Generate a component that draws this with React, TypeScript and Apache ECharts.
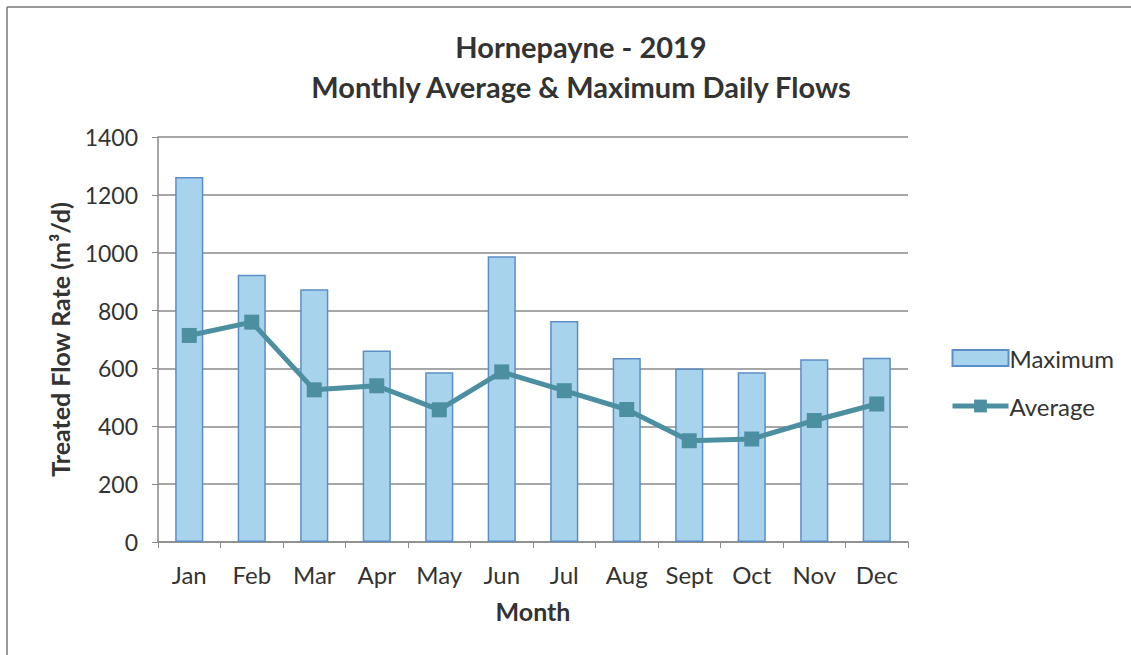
import React, { useEffect, useRef } from "react";
import * as echarts from "echarts";

const months = ["Jan", "Feb", "Mar", "Apr", "May", "Jun", "Jul", "Aug", "Sept", "Oct", "Nov", "Dec"];
const maximumFlow = [1262, 924, 874, 662, 587, 988, 764, 636, 600, 587, 632, 637];
const averageFlow = [714, 760, 526, 540, 457, 588, 523, 458, 350, 356, 420, 477];
const yTicks = { min: 0, max: 1400, interval: 200 };

const FONT = "Lato, 'Open Sans', sans-serif";

export default function App() {
  const ref = useRef<HTMLDivElement>(null);
  useEffect(() => {
    const chart = echarts.init(ref.current!, undefined, { renderer: "svg" });
    chart.setOption({
      animation: false,
      backgroundColor: "#ffffff",
      textStyle: { fontFamily: FONT },
      title: {
        text: "Hornepayne - 2019\nMonthly Average & Maximum Daily Flows",
        left: 576,
        top: 21,
        textAlign: "center",
        textStyle: {
          fontFamily: FONT,
          fontWeight: "bold",
          fontSize: 29,
          lineHeight: 40,
          color: "#333333",
        },
      },
      legend: {
        orient: "vertical",
        left: 945,
        top: 341,
        itemGap: 24,
        itemWidth: 56,
        itemHeight: 16,
        textStyle: { fontFamily: FONT, fontSize: 24, color: "#333333", padding: [0, 0, 0, -4] },
        data: [
          { name: "Maximum", icon: "rect" },
          { name: "Average", lineStyle: { width: 5, color: "#4c8fa1" } },
        ],
      },
      grid: { left: 158, right: 223, top: 137, bottom: 113, containLabel: false },
      xAxis: {
        type: "category",
        data: months,
        name: "Month",
        nameLocation: "middle",
        nameGap: 56,
        nameTextStyle: { fontFamily: FONT, fontWeight: "bold", fontSize: 25, color: "#333333" },
        axisLine: { lineStyle: { color: "#8a8a8a", width: 1.5 } },
        axisTick: { show: true, alignWithLabel: false, length: 6, lineStyle: { color: "#8a8a8a" } },
        axisLabel: { fontFamily: FONT, fontSize: 24, color: "#333333", margin: 20 },
      },
      yAxis: {
        type: "value",
        min: yTicks.min,
        max: yTicks.max,
        interval: yTicks.interval,
        name: "Treated Flow Rate (m³/d)",
        nameLocation: "middle",
        nameGap: 86,
        nameRotate: 90,
        nameTextStyle: { fontFamily: FONT, fontWeight: "bold", fontSize: 25, color: "#333333" },
        axisLine: { show: true, lineStyle: { color: "#8a8a8a", width: 1.5 } },
        axisTick: { show: true, inside: false, length: 6, lineStyle: { color: "#8a8a8a" } },
        axisLabel: {
          fontFamily: FONT,
          fontSize: 23,
          color: "#333333",
          margin: 20,
          formatter: (v: number) => String(v),
        },
        splitLine: { show: true, lineStyle: { color: "#8a8a8a", width: 1.5 } },
      },
      series: [
        {
          name: "Maximum",
          type: "bar",
          data: maximumFlow,
          barWidth: "45%",
          itemStyle: { color: "#a8d3ec", borderColor: "#5b8ec6", borderWidth: 1.5 },
        },
        {
          name: "Average",
          type: "line",
          data: averageFlow,
          symbol: "rect",
          symbolSize: 15,
          lineStyle: { color: "#4c8fa1", width: 5 },
          itemStyle: { color: "#4c8fa1" },
        },
      ],
      graphic: [
        { type: "line", shape: { x1: 7, y1: 7, x2: 1131, y2: 7 }, style: { stroke: "#777777", lineWidth: 1.5 } },
        { type: "line", shape: { x1: 7, y1: 7, x2: 7, y2: 655 }, style: { stroke: "#777777", lineWidth: 1.5 } },
      ],
    });
    return () => chart.dispose();
  }, []);
  return <div ref={ref} style={{ position: "absolute", left: 0, top: 0, width: 1131, height: 655 }} />;
}
